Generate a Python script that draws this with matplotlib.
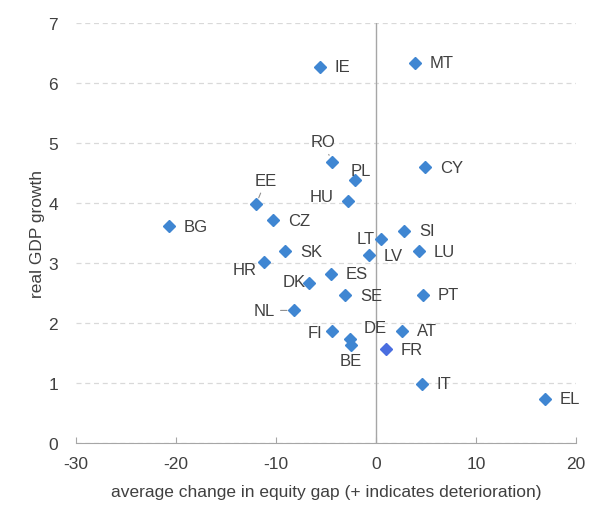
import matplotlib
matplotlib.use("Agg")
import matplotlib.pyplot as plt

# datos
paises = ["IE", "MT", "RO", "PL", "HU", "EE", "CZ", "BG", "CY", "SI", "LT", "LU",
          "LV", "SK", "HR", "ES", "DK", "SE", "PT", "NL", "FI", "DE", "BE", "AT",
          "FR", "IT", "EL"]
brecha = [-5.6, 3.9, -4.4, -2.1, -2.8, -12.0, -10.3, -20.7, 4.9, 2.8, 0.5, 4.3,
          -0.7, -9.1, -11.2, -4.5, -6.7, -3.1, 4.7, -8.2, -4.4, -2.6, -2.5, 2.6,
          1.0, 4.6, 16.9]
pib = [6.27, 6.34, 4.69, 4.38, 4.04, 3.98, 3.71, 3.61, 4.60, 3.54, 3.40, 3.20,
       3.13, 3.20, 3.02, 2.82, 2.67, 2.46, 2.47, 2.21, 1.86, 1.73, 1.64, 1.87,
       1.56, 0.99, 0.74]

# posicion de etiquetas (dx, dy en pixeles, alineacion, linea guia)
etiquetas = {
    "RO": (-9, 20, "center", True), "PL": (6, 10, "center", False),
    "HU": (-14, 4, "right", False), "EE": (10, 24, "center", True),
    "LT": (-6, 1, "right", False), "HR": (-7, -8, "right", False),
    "DK": (-3, 1, "right", False), "NL": (-19, 0, "right", True),
    "FI": (-10, -1, "right", False), "DE": (25, 12, "center", False),
    "BE": (0, -16, "center", False),
}

plt.rcParams['font.family'] = ['Liberation Sans', 'DejaVu Sans']
plt.rcParams['axes.unicode_minus'] = False
gris = '#404040'

fig = plt.figure(figsize=(5.9, 5.06), dpi=100)
ax = fig.add_axes([0.129, 0.1225, 0.847, 0.83])

for p, x, y in zip(paises, brecha, pib):
    color = '#4a6ee0' if p == "FR" else '#3f86d2'
    ax.plot(x, y, marker='D', markersize=6.3, color=color, linestyle='none', zorder=3)
    dx, dy, ha, guia = etiquetas.get(p, (15, 0, "left", False))
    ax.annotate(p, (x, y), xytext=(dx, dy), textcoords='offset pixels',
                ha=ha, va='center', fontsize=12, color=gris,
                arrowprops=dict(arrowstyle='-', color='#909090', lw=0.8,
                                shrinkA=2, shrinkB=5) if guia else None)

ax.set_xlim(-30, 20)
ax.set_ylim(0, 7)
ax.set_xticks(range(-30, 21, 10))
ax.set_yticks(range(0, 8))
ax.yaxis.grid(True, color='#d9d9d9', linestyle=(0, (4, 3)), linewidth=0.9)
ax.set_axisbelow(True)
ax.axvline(0, color='#a6a6a6', lw=1, zorder=1)

for s in ['top', 'right', 'left']:
    ax.spines[s].set_visible(False)
ax.spines['bottom'].set_color('#a6a6a6')
ax.tick_params(axis='x', direction='in', length=4, color='#a6a6a6',
               labelsize=12.5, labelcolor=gris, pad=9)
ax.tick_params(axis='y', length=0, labelsize=12.5, labelcolor=gris, pad=13)

ax.set_xlabel("average change in equity gap (+ indicates deterioration)",
              fontsize=12.5, color=gris, labelpad=10)
ax.set_ylabel("real GDP growth", fontsize=12.5, color=gris)
ax.yaxis.set_label_coords(-0.062, 0.5)

fig.savefig("out.png", dpi=100)
